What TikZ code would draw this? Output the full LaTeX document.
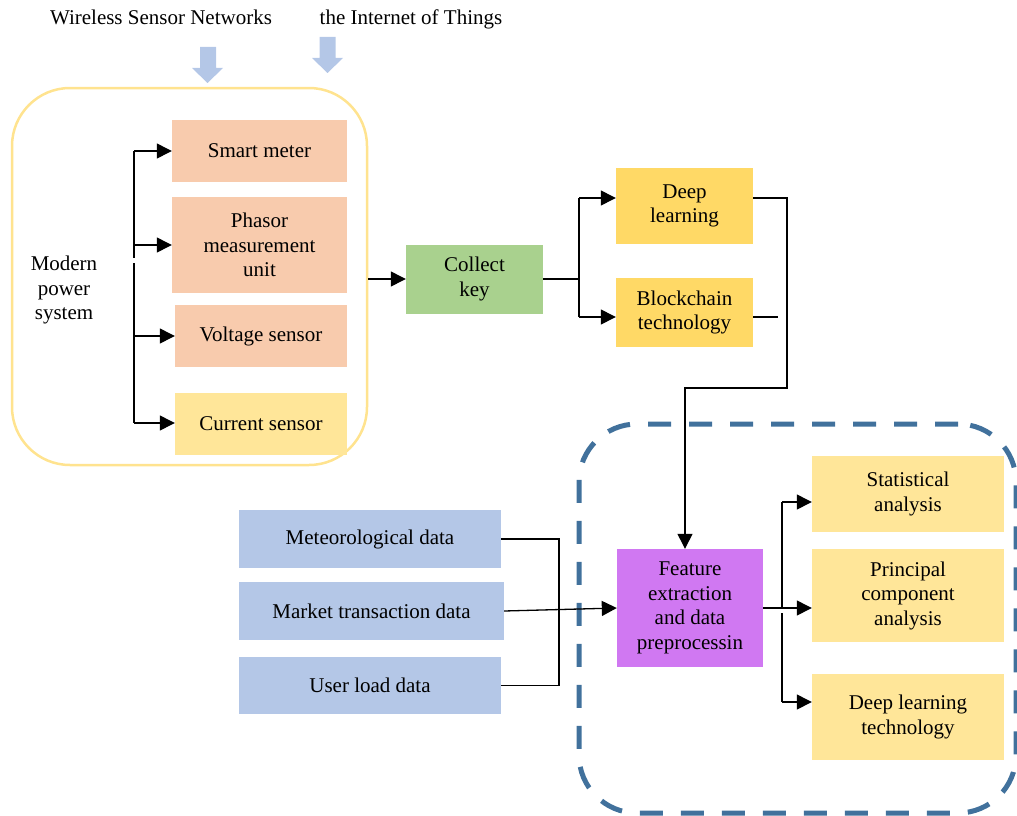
\documentclass[tikz,border=0pt]{standalone}
\usepackage{fontspec}
\setmainfont{Liberation Serif}
\usetikzlibrary{arrows.meta}
\definecolor{salmon}{HTML}{F8CBAD}
\definecolor{lyellow}{HTML}{FFE699}
\definecolor{dyellow}{HTML}{FFD966}
\definecolor{lgreen}{HTML}{A9D18E}
\definecolor{lblue}{HTML}{B4C7E7}
\definecolor{purp}{RGB}{208,120,242}
\definecolor{dashblue}{RGB}{65,113,156}
\definecolor{frameyellow}{HTML}{FFE38F}
\begin{document}
\begin{tikzpicture}[x=1pt,y=-1pt,
  txt/.style={font=\fontsize{21}{24.5}\selectfont, align=center, inner sep=0pt, text=black},
  box/.style={txt, draw=none},
  conn/.style={draw=black, line width=1.3pt},
  arr/.style={conn, -{Triangle[length=15pt,width=15pt]}},
  frame/.style={draw=frameyellow, line width=2.5pt, rounded corners=58pt, inner sep=0pt},
  dframe/.style={draw=dashblue, line width=5pt, rounded corners=58pt, inner sep=0pt, dash pattern=on 23pt off 18pt},
  bigarrow/.style={fill=lblue}
]
\useasboundingbox (0,0) rectangle (1017,816);

% top labels and arrows
\node[txt] (wsn) at (161,17) {Wireless Sensor Networks};
\node[txt] (iot) at (411,19) {the Internet of Things};
\fill[bigarrow] (200,47) -- (216,47) -- (216,68) -- (223,68) -- (207.5,83) -- (192,68) -- (200,68) -- cycle;
\fill[bigarrow] (319.5,37) -- (335.5,37) -- (335.5,58) -- (343,58) -- (327.5,73) -- (312,58) -- (319.5,58) -- cycle;

% left frame
\node[frame, minimum width=355pt, minimum height=377pt] (mps) at (189.5,276.5) {};
\node[txt] (mtext) at (64,290) {Modern\\power\\system};

\node[box, fill=salmon, minimum width=175pt, minimum height=62pt] (sm) at (259.5,151) {Smart meter};
\node[box, fill=salmon, minimum width=175pt, minimum height=96pt] (pmu) at (259.5,245) {Phasor\\measurement\\unit};
\node[box, fill=salmon, minimum width=172pt, minimum height=62pt] (vs) at (261,336) {Voltage sensor};
\node[box, fill=lyellow, minimum width=172pt, minimum height=62pt] (cs) at (261,424) {Current sensor};

\coordinate (lbtop) at (134,151);
\coordinate (lbbot) at (134,423);
\coordinate (gap1a) at (134,258);
\coordinate (gap1b) at (134,263);
\draw[conn] (lbtop) -- (gap1a);
\draw[conn] (gap1b) -- (lbbot);
\draw[arr] (lbtop) -- (sm.west);
\draw[arr] (lbtop |- pmu.west) -- (pmu.west);
\draw[arr] (lbtop |- vs.west) -- (vs.west);
\draw[arr] (lbbot) -- (cs.west |- lbbot);

% collect key
\node[box, fill=lgreen, minimum width=137pt, minimum height=69pt] (ck) at (474.5,279) {Collect\\key};
\draw[arr] (mps.east |- ck.west) -- (ck.west);

\node[box, fill=dyellow, minimum width=137pt, minimum height=76pt] (dl) at (684.5,206) {Deep\\learning};
\node[box, fill=dyellow, minimum width=137pt, minimum height=69pt] (bc) at (684.5,312.5) {Blockchain\\technology};

\coordinate (cb) at (579,279);
\coordinate (dlin) at (579,198);
\coordinate (bcin) at (579,317);
\draw[conn] (ck.east) -- (cb);
\draw[conn] (dlin) -- (bcin);
\draw[arr] (dlin) -- (dl.west |- dlin);
\draw[arr] (bcin) -- (bc.west |- bcin);
\draw[conn] (bc.east |- bcin) -- ++(25,0);

% dashed frame
\node[dframe, minimum width=437pt, minimum height=389pt] (proc) at (797.5,618.5) {};

% feature extraction
\node[box, fill=purp, minimum width=146pt, minimum height=118pt] (fe) at (690,608) {Feature\\extraction\\and data\\preprocessin};

\coordinate (c1) at (787,388);
\coordinate (fein) at (685,388);
\draw[arr] (dl.east |- dlin) -| (c1) -- (fein) -- (fein |- fe.north);

% data boxes
\node[box, fill=lblue, minimum width=262pt, minimum height=58pt] (met) at (370,539) {Meteorological data};
\node[box, fill=lblue, minimum width=265pt, minimum height=58pt] (mkt) at (371.5,611) {Market transaction data};
\node[box, fill=lblue, minimum width=262pt, minimum height=57pt] (uld) at (370,685.5) {User load data};

\coordinate (jn) at (559,611);
\draw[conn] (met.east) -| (jn) |- (uld.east);
\draw[arr] (mkt.east) -- (fe.west);

% analysis boxes
\node[box, fill=lyellow, minimum width=192pt, minimum height=76pt] (st) at (908,494) {Statistical\\analysis};
\node[box, fill=lyellow, minimum width=192pt, minimum height=93pt] (pca) at (908,595.5) {Principal\\component\\analysis};
\node[box, fill=lyellow, minimum width=192pt, minimum height=86pt] (dlt) at (908,717) {Deep learning\\technology};

\coordinate (ot) at (782,502);
\coordinate (ob) at (782,702);
\coordinate (gap2a) at (782,607);
\coordinate (gap2b) at (782,613);
\draw[conn] (ot) -- (gap2a);
\draw[conn] (gap2b) -- (ob);
\draw[arr] (fe.east) -- (fe.east -| pca.west);
\draw[arr] (ot) -- (st.west |- ot);
\draw[arr] (ob) -- (dlt.west |- ob);
\end{tikzpicture}
\end{document}
